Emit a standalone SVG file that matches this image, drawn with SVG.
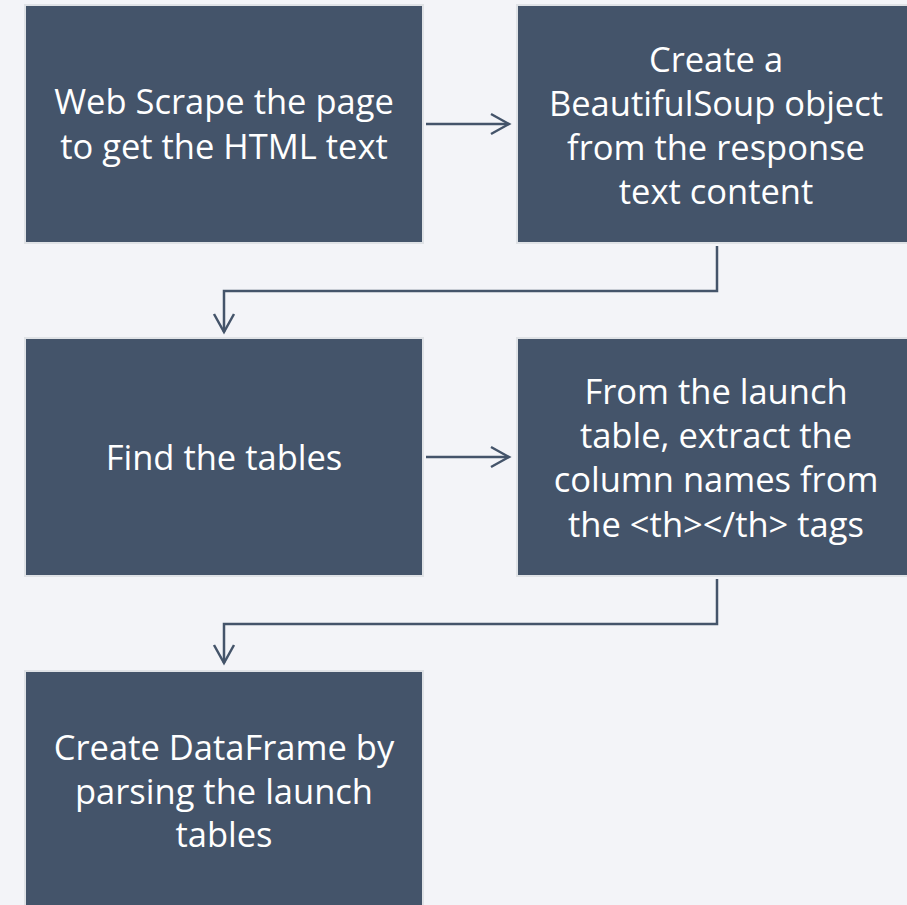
<svg xmlns="http://www.w3.org/2000/svg" width="907" height="905" viewBox="0 0 907 905">
  <style>
    .box { fill: #44546a; stroke: #dfe2e6; stroke-width: 2; }
    .lbl { fill: #ffffff; font-family: "Open Sans", "Noto Sans", "Liberation Sans", sans-serif; font-size: 34.5px; text-anchor: middle; }
    .conn { fill: none; stroke: #44546a; stroke-width: 2.5; }
  </style>
  <defs>
    <marker id="chev" markerUnits="userSpaceOnUse" viewBox="-22 -13 26 26" refX="0" refY="0" markerWidth="26" markerHeight="26" orient="auto">
      <path d="M -18 -10 L 0 0 L -18 10" fill="none" stroke="#44546a" stroke-width="2.5" stroke-linejoin="miter"/>
    </marker>
  </defs>
  <rect x="0" y="0" width="907" height="905" fill="#f3f4f8"/>

  <g id="node-scrape">
    <rect class="box" x="25" y="5" width="398" height="238"/>
    <text class="lbl" x="224" y="114">Web Scrape the page</text>
    <text class="lbl" x="224" y="159">to get the HTML text</text>
  </g>

  <g id="node-soup">
    <rect class="box" x="517" y="5" width="398" height="238"/>
    <text class="lbl" x="716" y="72">Create a</text>
    <text class="lbl" x="716" y="116">BeautifulSoup object</text>
    <text class="lbl" x="716" y="160">from the response</text>
    <text class="lbl" x="716" y="204">text content</text>
  </g>

  <g id="node-find">
    <rect class="box" x="25" y="338" width="398" height="238"/>
    <text class="lbl" x="224" y="470">Find the tables</text>
  </g>

  <g id="node-columns">
    <rect class="box" x="517" y="338" width="398" height="238"/>
    <text class="lbl" x="716" y="404">From the launch</text>
    <text class="lbl" x="716" y="448">table, extract the</text>
    <text class="lbl" x="716" y="492">column names from</text>
    <text class="lbl" x="716" y="537">the &lt;th&gt;&lt;/th&gt; tags</text>
  </g>

  <g id="node-dataframe">
    <rect class="box" x="25" y="671" width="398" height="238"/>
    <text class="lbl" x="224" y="760">Create DataFrame by</text>
    <text class="lbl" x="224" y="804">parsing the launch</text>
    <text class="lbl" x="224" y="847">tables</text>
  </g>

  <g id="connectors">
    <path class="conn" d="M 426 124 L 509 124" marker-end="url(#chev)"/>
    <path class="conn" d="M 717 246 L 717 291 L 224 291 L 224 332" marker-end="url(#chev)"/>
    <path class="conn" d="M 426 457 L 509 457" marker-end="url(#chev)"/>
    <path class="conn" d="M 717 579 L 717 624 L 224 624 L 224 663" marker-end="url(#chev)"/>
  </g>
</svg>
